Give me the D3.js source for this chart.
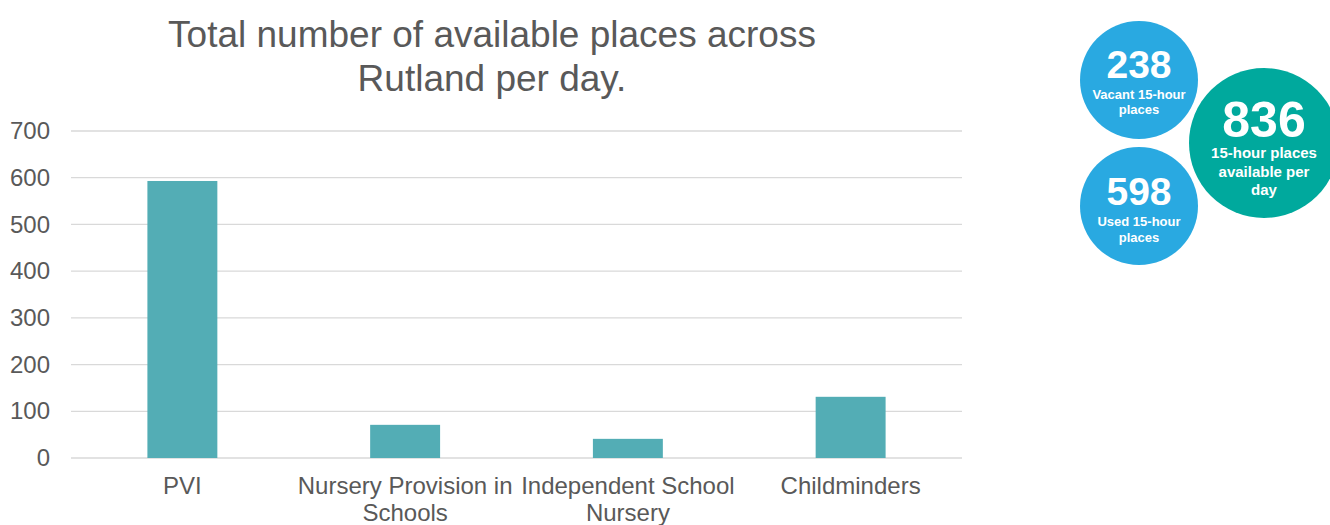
<!DOCTYPE html>
<html>
<head>
<meta charset="utf-8">
<script src="https://cdn.jsdelivr.net/npm/d3@7"></script>
<style>
  body { margin: 0; background: #fff; }
  svg { font-family: "Liberation Sans", Arial, sans-serif; }
</style>
</head>
<body>
<svg id="chart" width="1330" height="525"></svg>
<script>
var categories = [["PVI"], ["Nursery Provision in", "Schools"], ["Independent School", "Nursery"], ["Childminders"]];
var places = [593, 71, 41, 131];
var yTicks = [0, 100, 200, 300, 400, 500, 600, 700];
var titleLines = ["Total number of available places across", "Rutland per day."];

// summary bubbles
var bubbles = [
  {value: "238", label: ["Vacant 15-hour", "places"], colour: "#29a9e1"},
  {value: "598", label: ["Used 15-hour", "places"], colour: "#29a9e1"},
  {value: "836", label: ["15-hour places", "available per", "day"], colour: "#00a99d"}
];

var svg = d3.select("#chart");
var margin = {left: 71, right: 368, top: 131, bottom: 67};
var width = 1330 - margin.left - margin.right;
var height = 525 - margin.top - margin.bottom;

var x = d3.scaleBand()
    .domain(d3.range(categories.length))
    .range([0, width])
    .paddingInner(0.686)
    .paddingOuter(0.343);

var y = d3.scaleLinear().domain([0, 700]).range([height, 0]);

var g = svg.append("g").attr("transform", "translate(" + margin.left + "," + margin.top + ")");

// gridlines
g.selectAll(".grid")
    .data(yTicks)
    .enter().append("line")
    .attr("x1", 0)
    .attr("x2", width)
    .attr("y1", function(d){ return y(d); })
    .attr("y2", function(d){ return y(d); })
    .attr("stroke", "#d9d9d9")
    .attr("stroke-width", 1.3);

var yAxis = g.append("g")
    .call(d3.axisLeft(y).tickValues(yTicks).tickSize(0).tickPadding(21));
yAxis.select(".domain").remove();
yAxis.selectAll("text")
    .attr("font-size", 24)
    .attr("fill", "#595959")
    .attr("font-family", "Liberation Sans, Arial, sans-serif");

g.selectAll(".bar")
    .data(places)
    .enter().append("rect")
    .attr("class", "bar")
    .attr("x", function(d, i){ return x(i); })
    .attr("y", function(d){ return y(d); })
    .attr("width", x.bandwidth())
    .attr("height", function(d){ return height - y(d); })
    .attr("fill", "#53adb5");

var xLabels = g.selectAll(".xlab")
    .data(categories)
    .enter().append("text")
    .attr("class", "xlab")
    .attr("text-anchor", "middle")
    .attr("font-size", 24)
    .attr("fill", "#595959")
    .attr("transform", function(d, i){ return "translate(" + (x(i) + x.bandwidth() / 2) + "," + (height + 36) + ")"; });

xLabels.selectAll("tspan")
    .data(function(d){ return d; })
    .enter().append("tspan")
    .attr("x", 0)
    .attr("dy", function(d, i){ return i ? 27 : 0; })
    .text(function(d){ return d; });

// title
svg.append("text")
    .attr("text-anchor", "middle")
    .attr("font-size", 37)
    .attr("fill", "#595959")
    .selectAll("tspan")
    .data(titleLines)
    .enter().append("tspan")
    .attr("x", 492)
    .attr("y", function(d, i){ return 47 + i * 44; })
    .text(function(d){ return d; });

// bubble positions
var bubblePos = [
  {cx: 1139, cy: 80, r: 59, num: 39, lab: 13, numY: 78, labY: 99, step: 15},
  {cx: 1139, cy: 206, r: 59, num: 39, lab: 13, numY: 205, labY: 226, step: 16},
  {cx: 1264, cy: 143, r: 75, num: 50, lab: 15, numY: 137, labY: 158, step: 18.5}
];

var bg = svg.selectAll(".bubble")
    .data(bubbles)
    .enter().append("g")
    .attr("class", "bubble");

bg.append("circle")
    .attr("cx", function(d, i){ return bubblePos[i].cx; })
    .attr("cy", function(d, i){ return bubblePos[i].cy; })
    .attr("r", function(d, i){ return bubblePos[i].r; })
    .attr("fill", function(d){ return d.colour; });

bg.append("text")
    .attr("x", function(d, i){ return bubblePos[i].cx; })
    .attr("y", function(d, i){ return bubblePos[i].numY; })
    .attr("text-anchor", "middle")
    .attr("font-weight", "bold")
    .attr("font-size", function(d, i){ return bubblePos[i].num; })
    .attr("fill", "#fff")
    .text(function(d){ return d.value; });

bg.each(function(d, i){
    var p = bubblePos[i];
    d3.select(this).append("text")
        .attr("text-anchor", "middle")
        .attr("font-weight", "bold")
        .attr("font-size", p.lab)
        .attr("fill", "#fff")
        .selectAll("tspan")
        .data(d.label)
        .enter().append("tspan")
        .attr("x", p.cx)
        .attr("y", function(t, j){ return p.labY + j * p.step; })
        .text(function(t){ return t; });
});
</script>
</body>
</html>
